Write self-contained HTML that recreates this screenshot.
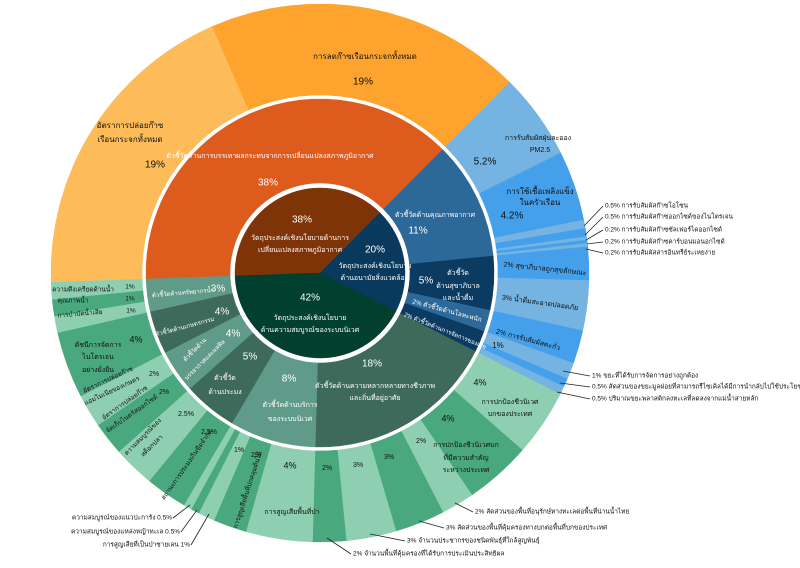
<!DOCTYPE html>
<html><head><meta charset="utf-8">
<style>
html,body{margin:0;padding:0;background:#fff;}
svg{display:block;font-family:"Liberation Sans","DejaVu Sans",sans-serif;}
</style></head>
<body>
<svg id="s" width="800" height="568" viewBox="0 0 800 568" xmlns="http://www.w3.org/2000/svg"></svg>
<script>
var NS="http://www.w3.org/2000/svg",S=document.getElementById('s');
var cx=320,cy=273,A0=268;
function P(r,a){a=a*Math.PI/180;return [cx+r*Math.sin(a),cy-r*Math.cos(a)];}
function seg(r0,r1,a0,a1,c){
 var big=(a1-a0)>180?1:0,p1=P(r1,a0),p2=P(r1,a1),p3=P(r0,a1),p4=P(r0,a0),d;
 d="M"+p1+" A"+r1+","+r1+" 0 "+big+" 1 "+p2+" L"+p3;
 if(r0>0) d+=" A"+r0+","+r0+" 0 "+big+" 0 "+p4;
 d+=" Z";
 var e=document.createElementNS(NS,'path');e.setAttribute('d',d);e.setAttribute('fill',c);e.setAttribute('stroke',c);e.setAttribute('stroke-width','0.5');S.appendChild(e);
}
function ring(r0,r1,list){var a=A0;list.forEach(function(s){var b=a+s[0]*3.6;seg(r0,r1,a,b,s[1]);a=b;});}
var Y='#fdbb5a',O='#fea42e',L='#74b3e2',B='#44a0ea',GL='#8ecfb1',GD='#4aa87f',MG='#3e6a5c',ML='#5f9b88',MB='#2c6898',MD='#0c3b61';
ring(0,85,[[38,'#7f3407'],[20,'#093a5e'],[42,'#013f2e']]);
ring(90,174,[[38,'#de5b1e'],[11,MB],[5,MD],[2,MB],[2,MD],[18,MG],[8,ML],[5,MG],[4,ML],[4,MG],[3,ML]]);
ring(178,269,[[19,Y],[19,O],[5.2,L],[4.2,B],[0.5,L],[0.5,B],[0.2,L],[0.2,B],[0.2,L],[2,B],[3,L],[2,B],[1,L],[0.5,B],[0.5,L],
[4,GL],[4,GD],[2,GL],[3,GD],[3,GL],[2,GD],[4,GL],[2,GD],[1,GL],[0.5,GD],[0.5,GL],[2.5,GD],[2.5,GL],[2,GD],[2,GL],[4,GD],[1,GL],[1,GD],[1,GL]]);
function t(x,y,s,o){o=o||{};var e=document.createElementNS(NS,'text');
 e.setAttribute('x',x);e.setAttribute('y',y);e.setAttribute('font-size',o.f||7);e.setAttribute('fill',o.c||'#111');
 e.setAttribute('text-anchor',o.a||'middle');e.setAttribute('dominant-baseline','middle');
 if(o.r) e.setAttribute('transform','rotate('+o.r+' '+x+' '+y+')');e.textContent=s;S.appendChild(e);}
function ln(x1,y1,x2,y2){var e=document.createElementNS(NS,'line');e.setAttribute('x1',x1);e.setAttribute('y1',y1);e.setAttribute('x2',x2);e.setAttribute('y2',y2);e.setAttribute('stroke','#222');e.setAttribute('stroke-width','0.8');S.appendChild(e);}
var W={c:'#fff'},W11={c:'#fff',f:10},K11={f:10};
t(302,220,'38%',W11);t(300,238,'วัตถุประสงค์เชิงนโยบายด้านการ',W);t(300,250,'เปลี่ยนแปลงสภาพภูมิอากาศ',W);
t(375,250,'20%',W11);t(375,266,'วัตถุประสงค์เชิงนโยบาย',W);t(375,278,'ด้านอนามัยสิ่งแวดล้อม',W);
t(310,298,'42%',W11);t(310,318,'วัตถุประสงค์เชิงนโยบาย',W);t(310,330,'ด้านความสมบูรณ์ของระบบนิเวศ',W);
t(270,156,'ตัวชี้วัดด้านการบรรเทาผลกระทบจากการเปลี่ยนแปลงสภาพภูมิอากาศ',W);t(268,183,'38%',W11);
t(435,215,'ตัวชี้วัดด้านคุณภาพอากาศ',W);t(418,231,'11%',W11);
t(426,281,'5%',W11);t(458,273,'ตัวชี้วัด',W);t(458,286,'ด้านสุขาภิบาล',W);t(458,298,'และน้ำดื่ม',W);
t(447,311,'2% ตัวชี้วัดด้านโลหะหนัก',{c:'#fff',f:6.5,r:15});t(445,331,'2% ตัวชี้วัดด้านการจัดการของเสีย',{c:'#fff',f:6,r:22});
t(372,364,'18%',W11);t(375,386,'ตัวชี้วัดด้านความหลากหลายทางชีวภาพ',W);t(375,398,'และถิ่นที่อยู่อาศัย',W);
t(289,379,'8%',W11);t(290,405,'ตัวชี้วัดด้านบริการ',W);t(290,419,'ของระบบนิเวศ',W);
t(250,357,'5%',W11);t(225,378,'ตัวชี้วัด',W);t(225,392,'ด้านประมง',W);
t(233,334,'4%',W11);t(195,350,'ตัวชี้วัดด้าน',{c:'#fff',f:6,r:-45});t(205,360,'บรรยากาศและมลพิษ',{c:'#fff',f:6,r:-45});
t(222,312,'4%',W11);t(185,327,'ตัวชี้วัดด้านเกษตรกรรม',{c:'#fff',f:6,r:-15});
t(218,289,'3%',W11);t(183,293,'ตัวชี้วัดด้านทรัพยากรน้ำ',{c:'#fff',f:6,r:-5});
t(130,126,'อัตราการปล่อยก๊าซ',{f:8});t(130,140,'เรือนกระจกทั้งหมด',{f:8});t(155,165,'19%',K11);
t(365,57,'การลดก๊าซเรือนกระจกทั้งหมด',{f:8});t(363,82,'19%',K11);
t(538,138,'การรับสัมผัสฝุ่นละออง');t(540,150,'PM2.5');t(485,162,'5.2%',K11);
t(540,192,'การใช้เชื้อเพลิงแข็ง',{f:8});t(540,203,'ในครัวเรือน',{f:8});t(512,216,'4.2%',K11);
t(545,269,'2% สุขาภิบาลถูกสุขลักษณะ',{r:6});t(540,303,'3% น้ำดื่มสะอาดปลอดภัย',{r:8});
t(528,340,'2% การรับสัมผัสตะกั่ว',{r:15});t(498,346,'1%',{f:8});
t(480,383,'4%',{f:9});t(510,402,'การปกป้องชีวนิเวศ');t(510,414,'บกของประเทศ');
t(448,419,'4%',{f:9});t(466,445,'การปกป้องชีวนิเวศบก');t(466,458,'ที่มีความสำคัญ');t(466,470,'ระหว่างประเทศ');
t(421,441,'2%');t(389,457,'3%');t(358,465,'3%');t(327,468,'2%');
t(290,466,'4%',{f:9});t(292,512,'การสูญเสียพื้นที่ป่า');t(256,455,'2%');t(248,490,'การสูญเสียพื้นที่ปกคลุมต้นไม้',{f:6.5,r:-72});t(239,450,'1%');
t(209,432,'2.5%');t(187,465,'สถานะการประมงเกินขีดจำกัด',{f:6.5,r:-55});
t(186,414,'2.5%');t(143,437,'ความสมบูรณ์ของ',{f:6.5,r:-45});t(152,446,'สต็อกปลา',{f:6.5,r:-45});
t(164,392,'2%');t(125,403,'อัตราการปล่อยก๊าซ',{f:6.5,r:-35});t(132,414,'จัดเก็บไนตรัสออกไซด์',{f:6.5,r:-35});
t(154,374,'2%');t(108,380,'อัตราการปล่อยก๊าซ',{f:6.5,r:-25});t(112,391,'แอมโมเนียของเกษตร',{f:6.5,r:-25});
t(136,340,'4%',{f:9});t(98,345,'ดัชนีการจัดการ');t(98,357,'ไนโตรเจน');t(98,370,'อย่างยั่งยืน');
t(130,287,'1%',{f:6.5});t(83,290,'ความตึงเครียดด้านน้ำ',{f:6.5});t(130,299,'1%',{f:6.5});t(73,301,'คุณภาพน้ำ',{f:6.5});t(131,311,'1%',{f:6.5});t(80,314,'การบำบัดน้ำเสีย',{f:6.5,r:-5});
var R=[[206,'0.5% การรับสัมผัสก๊าซโอโซน',584,226],[217,'0.5% การรับสัมผัสก๊าซออกไซด์ของไนโตรเจน',585,235],[230,'0.2% การรับสัมผัสก๊าซซัลเฟอร์ไดออกไซด์',586,240],[242,'0.2% การรับสัมผัสก๊าซคาร์บอนมอนอกไซด์',587,244],[253,'0.2% การรับสัมผัสสารอินทรีย์ระเหยง่าย',586,249]];
R.forEach(function(r){ln(r[2],r[3],603,r[0]);t(605,r[0],r[1],{a:'start',f:6.5});});
var R2=[[376,'1% ขยะที่ได้รับการจัดการอย่างถูกต้อง',563,371],[387,'0.5% สัดส่วนของขยะมูลฝอยที่สามารถรีไซเคิลได้มีการนำกลับไปใช้ประโยชน์',560,383],[399,'0.5% ปริมาณขยะพลาสติกลงทะเลที่ลดลงจากแม่น้ำสายหลัก',557,392]];
R2.forEach(function(r){ln(r[2],r[3],590,r[0]);t(592,r[0],r[1],{a:'start',f:6.5});});
var R3=[[475,512,'2% สัดส่วนของพื้นที่อนุรักษ์ทางทะเลต่อพื้นที่น่านน้ำไทย',455,503],[446,528,'3% สัดส่วนของพื้นที่คุ้มครองทางบกต่อพื้นที่บกของประเทศ',419,521],[407,541,'3% จำนวนประชากรของชนิดพันธุ์ที่ใกล้สูญพันธุ์',370,534],[353,554,'2% จำนวนพื้นที่คุ้มครองที่ได้รับการประเมินประสิทธิผล',327,538]];
R3.forEach(function(r){ln(r[3],r[4],r[0]-2,r[1]);t(r[0],r[1],r[2],{a:'start',f:6.5});});
var R4=[[172,518,'ความสมบูรณ์ของแนวปะการัง 0.5%',190,505],[180,532,'ความสมบูรณ์ของแหล่งหญ้าทะเล 0.5%',197,510],[190,545,'การสูญเสียที่เป็นป่าชายเลน 1%',209,514]];
R4.forEach(function(r){ln(r[3],r[4],r[0]+1,r[1]);t(r[0],r[1],r[2],{a:'end',f:6.5});});
</script>
</body></html>
